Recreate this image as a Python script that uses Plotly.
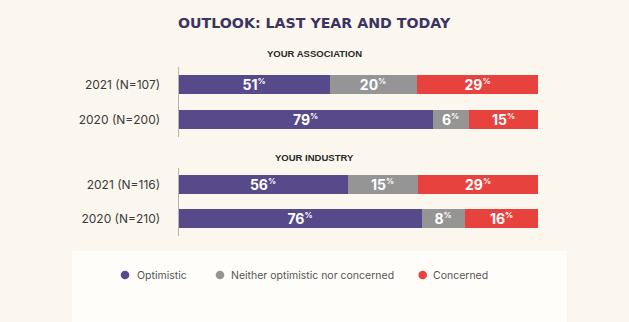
import plotly.graph_objects as go

# ---- data ----
series = ["Optimistic", "Neither optimistic nor concerned", "Concerned"]
colors = ["#564a8b", "#959595", "#e8423f"]
group_titles = ["YOUR ASSOCIATION", "YOUR INDUSTRY"]
assoc_rows = ["2021 (N=107)", "2020 (N=200)"]
industry_rows = ["2021 (N=116)", "2020 (N=210)"]

# printed percentage labels
assoc_optimistic = [51, 79]
assoc_neither = [20, 6]
assoc_concerned = [29, 15]
industry_optimistic = [56, 76]
industry_neither = [15, 8]
industry_concerned = [29, 16]

# segment lengths as drawn in the picture (share of the full bar)
assoc_optimistic_len = [41.9, 70.7]
assoc_neither_len = [24.4, 10.1]
assoc_concerned_len = [33.7, 19.2]
industry_optimistic_len = [47.1, 67.6]
industry_neither_len = [19.4, 11.9]
industry_concerned_len = [33.5, 20.5]

W, H = 629, 322
BG = "#fbf7ef"
LABEL_FONT = "Inter, Roboto, sans-serif"
HEAD_FONT = "DejaVu Sans, Liberation Sans, sans-serif"
SUB_FONT = "Liberation Sans, Arial, sans-serif"

fig = go.Figure()

groups = [
    ("x", "y", assoc_rows,
     [assoc_optimistic, assoc_neither, assoc_concerned],
     [assoc_optimistic_len, assoc_neither_len, assoc_concerned_len]),
    ("x2", "y2", industry_rows,
     [industry_optimistic, industry_neither, industry_concerned],
     [industry_optimistic_len, industry_neither_len, industry_concerned_len]),
]

for xa, ya, rows, labels, lengths in groups:
    for name, col, lab, ln in zip(series, colors, labels, lengths):
        fig.add_trace(go.Bar(
            y=rows, x=ln, orientation="h", name=name,
            marker=dict(color=col, line=dict(width=0)),
            width=0.56,
            text=[f"<b>{v}<sup><span style='font-size:8px'>%</span></sup></b>" for v in lab],
            textposition="inside", insidetextanchor="middle", textangle=0,
            constraintext="none", cliponaxis=False,
            insidetextfont=dict(color="white", size=14, family=LABEL_FONT),
            showlegend=False, hoverinfo="skip",
            xaxis=xa, yaxis=ya,
        ))

xdom = [178.5 / W, 538 / W]
xaxis_common = dict(domain=xdom, range=[0, 100], showgrid=False, zeroline=False,
                    showticklabels=False, showline=False, fixedrange=True)
yaxis_common = dict(showgrid=False, zeroline=False, showline=True, linecolor="#b8b4ad",
                    linewidth=1, ticks="", ticklabelstandoff=15, autorange="reversed",
                    tickfont=dict(size=12, color="#3a3a3a", family=LABEL_FONT))

# legend drawn as circles + labels in the light box at the bottom
legend_x_marker = [125, 220, 422.7]
legend_x_text = [136.7, 231, 432.7]
legend_y = 275
shapes = [dict(type="rect", xref="paper", yref="paper", x0=72 / W, x1=567 / W,
               y0=0, y1=1 - 251 / H, fillcolor="#fffdfa", line=dict(width=0), layer="below")]
annotations = [
    dict(text="<b>OUTLOOK: LAST YEAR AND TODAY</b>", x=314.5 / W, y=1 - 23.5 / H,
         xref="paper", yref="paper", xanchor="center", yanchor="middle", showarrow=False,
         font=dict(size=14.2, color="#3b3360", family=HEAD_FONT)),
    dict(text=f"<b>{group_titles[0]}</b>", x=314 / W, y=1 - 54 / H,
         xref="paper", yref="paper", xanchor="center", yanchor="middle", showarrow=False,
         font=dict(size=9.5, color="#2a2a2a", family=SUB_FONT)),
    dict(text=f"<b>{group_titles[1]}</b>", x=314 / W, y=1 - 158 / H,
         xref="paper", yref="paper", xanchor="center", yanchor="middle", showarrow=False,
         font=dict(size=9.5, color="#2a2a2a", family=SUB_FONT)),
]
r = 4.3
for name, col, mx, tx in zip(series, colors, legend_x_marker, legend_x_text):
    shapes.append(dict(type="circle", xref="paper", yref="paper",
                       x0=(mx - r) / W, x1=(mx + r) / W,
                       y0=1 - (legend_y + r) / H, y1=1 - (legend_y - r) / H,
                       fillcolor=col, line=dict(width=0)))
    annotations.append(dict(text=name, x=tx / W, y=1 - legend_y / H,
                            xref="paper", yref="paper", xanchor="left", yanchor="middle",
                            showarrow=False, xshift=-2,
                            font=dict(size=10.5, color="#555", family=LABEL_FONT)))

fig.update_layout(
    width=W, height=H,
    margin=dict(l=0, r=0, t=0, b=0),
    paper_bgcolor=BG, plot_bgcolor="rgba(0,0,0,0)",
    barmode="stack", bargap=0,
    xaxis=dict(anchor="y", **xaxis_common),
    xaxis2=dict(anchor="y2", **xaxis_common),
    yaxis=dict(anchor="x", domain=[1 - 137 / H, 1 - 67 / H],
               categoryorder="array", categoryarray=assoc_rows, **yaxis_common),
    yaxis2=dict(anchor="x2", domain=[1 - 235.5 / H, 1 - 168.1 / H],
                categoryorder="array", categoryarray=industry_rows, **yaxis_common),
    showlegend=False,
    shapes=shapes,
    annotations=annotations,
)

fig.write_html("out.html")
